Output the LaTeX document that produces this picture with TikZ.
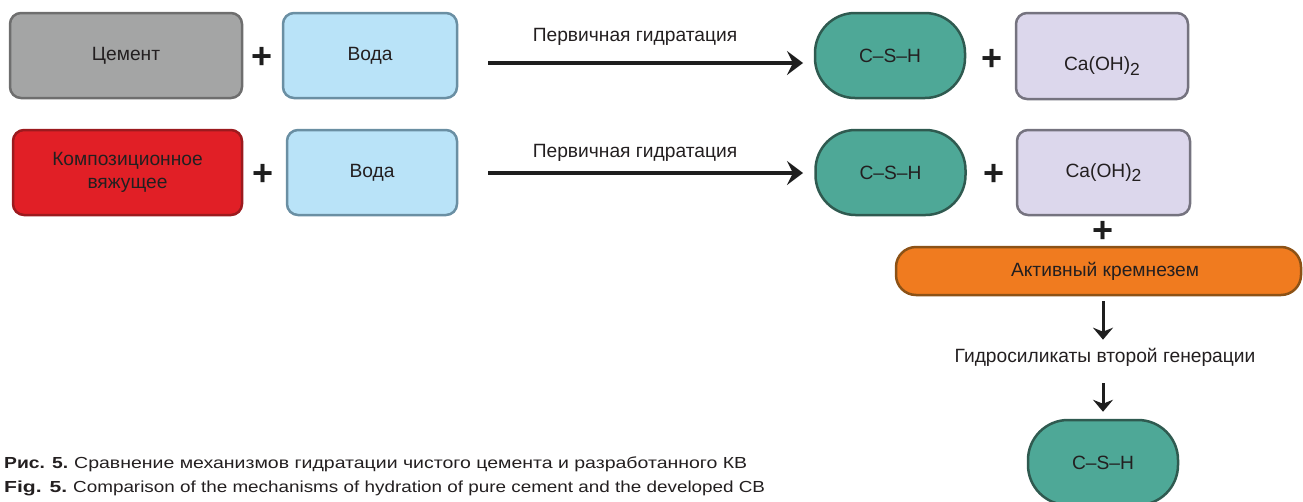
\documentclass[tikz,border=0pt]{standalone}
\usepackage{fontspec}
\usepackage{graphicx}
\setmainfont{Liberation Sans}
\usetikzlibrary{arrows.meta}
\definecolor{txt}{HTML}{231F20}
\definecolor{grayF}{HTML}{A4A5A5}\definecolor{grayD}{HTML}{6E6E6E}
\definecolor{blueF}{HTML}{B9E3F8}\definecolor{blueD}{HTML}{6A8FA3}
\definecolor{redF}{HTML}{E11F26}\definecolor{redD}{HTML}{9C1A1E}
\definecolor{tealF}{HTML}{4EA897}\definecolor{tealD}{HTML}{2F5A50}
\definecolor{lavF}{HTML}{DCD7EC}\definecolor{lavD}{HTML}{75737F}
\definecolor{orF}{HTML}{F07B1F}\definecolor{orD}{HTML}{8C5216}
\definecolor{arr}{HTML}{1E1E1E}
\tikzset{
  lbl/.style={text=txt,font=\fontsize{19.2}{23}\selectfont,inner sep=0pt},
  boxx/.style={lbl,draw,line width=2.5pt,rounded corners=11pt,align=center},
  stadium/.style={boxx,rounded corners=40pt,fill=tealF,draw=tealD,minimum width=150pt,minimum height=85pt},
  plussign/.style={text=arr,font=\fontsize{36}{36}\selectfont\bfseries,inner sep=0pt},
  bigarrow/.style={draw=arr,line width=4.5pt,-{Stealth[length=16pt,width=24pt,inset=6pt]}},
  downarrow/.style={draw=arr,line width=3pt,-{Stealth[length=12pt,width=20pt,inset=4pt]}},
  capt/.style={text=txt,font=\fontsize{16}{16}\selectfont,inner sep=0pt,anchor=base west}
}
\begin{document}
\begin{tikzpicture}[x=1pt,y=-1pt]
\useasboundingbox (0,0) rectangle (1303,501);
\clip (0,0) rectangle (1303,501);
% row 1
\node[boxx,fill=grayF,draw=grayD,minimum width=232pt,minimum height=85pt] (cem) at (126,55.5) {Цемент};
\node[plussign] (p1) at (262,58) {+};
\node[boxx,fill=blueF,draw=blueD,minimum width=174pt,minimum height=85pt] (w1) at (370,55.5) {Вода};
\node[stadium] (csh1) at (890,55.5) {C–S–H};
\node[plussign] (p2) at (992,60) {+};
\node[boxx,fill=lavF,draw=lavD,minimum width=172pt,minimum height=86pt] (ca1) at (1102,56) {};
\node[lbl] (ca1t) at (1102,66) {Ca(OH)\raisebox{-4.5pt}{\fontsize{17.5}{17}\selectfont 2}};
\coordinate (a1s) at (488,63);
\coordinate (a1e) at (803,63);
\draw[bigarrow] (a1s) -- (a1e);
\node[lbl] (l1) at (635,37) {Первичная гидратация};
% row 2
\node[boxx,fill=redF,draw=redD,minimum width=229pt,minimum height=85pt] (bind) at (127.5,172.5) {Композиционное\\вяжущее};
\node[plussign] (p3) at (263,175) {+};
\node[boxx,fill=blueF,draw=blueD,minimum width=170pt,minimum height=85pt] (w2) at (372,172.5) {Вода};
\node[stadium] (csh2) at (890.5,172.5) {C–S–H};
\node[plussign] (p4) at (994,175) {+};
\node[boxx,fill=lavF,draw=lavD,minimum width=173pt,minimum height=85pt] (ca2) at (1103.5,172.5) {Ca(OH)\raisebox{-4.5pt}{\fontsize{17.5}{17}\selectfont 2}};
\coordinate (a2s) at (488,173);
\coordinate (a2e) at (803,173);
\draw[bigarrow] (a2s) -- (a2e);
\node[lbl] (l2) at (635,153) {Первичная гидратация};
% lower chain
\node[plussign] (p5) at (1103,232) {+};
\node[boxx,fill=orF,draw=orD,rounded corners=20pt,minimum width=405pt,minimum height=48pt] (sil) at (1098.5,271) {};
\node[lbl] (silt) at (1105,271) {Активный кремнезем};
\node[lbl] (hyd) at (1105,357) {Гидросиликаты второй генерации};
\node[stadium] (csh3) at (1103,462.5) {C–S–H};
\draw[downarrow] ([yshift=-5pt]sil.south -| csh3.north) -- ([yshift=8pt]hyd.north -| csh3.north);
\draw[downarrow] ([yshift=-17pt]hyd.south -| csh3.north) -- ([yshift=7pt]csh3.north);
% caption
\node[capt] (cap1) at (4,468.5) {\resizebox{64pt}{\height}{\bfseries Рис. 5.}\hspace{6pt}\resizebox{673pt}{\height}{Сравнение механизмов гидратации чистого цемента и разработанного КВ}};
\node[capt] (cap2) at (4,492) {\resizebox{63pt}{\height}{\bfseries Fig. 5.}\hspace{6pt}\resizebox{692pt}{\height}{Comparison of the mechanisms of hydration of pure cement and the developed CB}};
\end{tikzpicture}
\end{document}
